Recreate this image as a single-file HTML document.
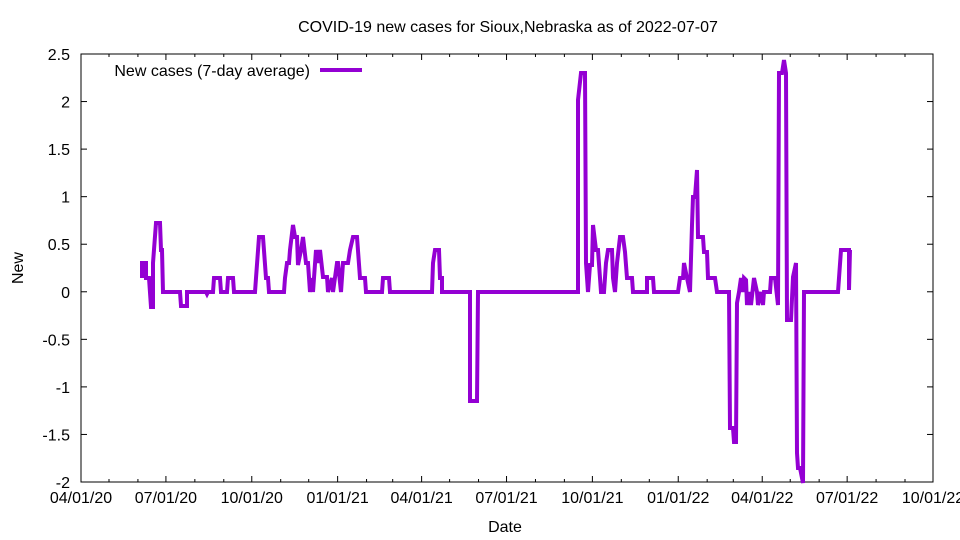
<!DOCTYPE html>
<html><head><meta charset="utf-8"><style>body{margin:0;background:#fff}svg{display:block}text{font-family:"Liberation Sans",sans-serif;font-size:16px;fill:#000}</style></head>
<body>
<svg id="s" width="960" height="540" xmlns="http://www.w3.org/2000/svg">
<text x="508" y="32" text-anchor="middle">COVID-19 new cases for Sioux,Nebraska as of 2022-07-07</text>
<text x="505" y="532" text-anchor="middle">Date</text>
<text x="23" y="268" text-anchor="middle" transform="rotate(-90 23 268)">New</text>
<g id="ticks" stroke="#000" stroke-width="1"></g>
<g id="lab"></g>
<rect x="81" y="54" width="852" height="428" fill="none" stroke="#000" stroke-width="1"/>
<text x="310" y="76" text-anchor="end">New cases (7-day average)</text>
<line x1="320" y1="70" x2="362" y2="70" stroke="#9400d3" stroke-width="4"/>
<polyline fill="none" stroke="#9400d3" stroke-width="4" stroke-linejoin="miter" points="
142,278 142,263 146,263 146,278 149,278 151,307 153,307 153,263 156,223 160,223 161,250 162,250 163,292 180,292 181,306 187,306 187,292 206,292 207,294 208,292 213,292 214,278 220,278 221,292 227,292 228,278 233,278 234,292 255,292 256,278 259,237 263,237 266,278 268,278 269,292 284,292 285,278 287,263 289,263 290,250 293,225 295,237 297,237 298,265 301,250 303,237 306,263 308,263 310,292 312,278 313,292 316,250 318,263 320,250 323,277 327,277 328,292 332,278 333,292 337,263 338,263 341,292 343,263 348,263 350,250 353,237 357,237 360,278 365,278 366,292 382,292 383,278 389,278 390,292 432,292 433,263 435,250 439,250 440,278 442,278 442,292 470,292 470,401 477,401 478,292 578,292 578,100 581,73 585,73 586,263 588,292 590,265 592,265 593,225 596,250 598,250 601,292 604,292 606,263 608,250 612,250 613,278 615,292 617,263 620,237 623,237 625,252 627,278 632,278 633,292 647,292 647,278 653,278 654,292 678,292 680,278 683,278 684,263 687,278 690,292 692,225 693,197 695,197 697,170 698,237 703,237 704,252 707,252 708,278 715,278 717,292 729,292 730,428 733,428 734,442 736,442 737,303 739,292 741,278 743,292 744,278 746,280 747,305 749,292 751,305 754,278 757,292 758,305 761,292 763,305 764,292 770,292 771,278 775,278 778,305 779,73 782,73 784,60 786,73 787,320 791,320 793,277 796,263 797,453 798,468 800,468 803,483 804,292 838,292 841,250 849,250 849,290 850,250"/>
</svg>
<script>
var t=document.getElementById('ticks'),l=document.getElementById('lab'),ns='http://www.w3.org/2000/svg';
function el(p,n,a,tx){var e=document.createElementNS(ns,n);for(var k in a)e.setAttribute(k,a[k]);if(tx)e.textContent=tx;p.appendChild(e);}
for(var i=0;i<=9;i++){var v=2.5-i*0.5,y=54+i*428/9;el(t,'line',{x1:81,y1:y,x2:87,y2:y});el(t,'line',{x1:933,y1:y,x2:927,y2:y});
el(l,'text',{x:70,y:y+6,'text-anchor':'end'},(v==0?'0':String(v)));}
var d0=Date.UTC(2020,3,1),k=852/913;
for(var m=0;m<=30;m++){var dt=Date.UTC(2020,3+m,1),x=81+(dt-d0)/864e5*k,maj=m%3==0,h=maj?6:3;
el(t,'line',{x1:x,y1:482,x2:x,y2:482-h});el(t,'line',{x1:x,y1:54,x2:x,y2:54+h});
if(maj){var D=new Date(dt);var s=('0'+(D.getUTCMonth()+1)).slice(-2)+'/01/'+String(D.getUTCFullYear()).slice(2);el(l,'text',{x:x,y:503,'text-anchor':'middle'},s);}}
</script>
</body></html>
